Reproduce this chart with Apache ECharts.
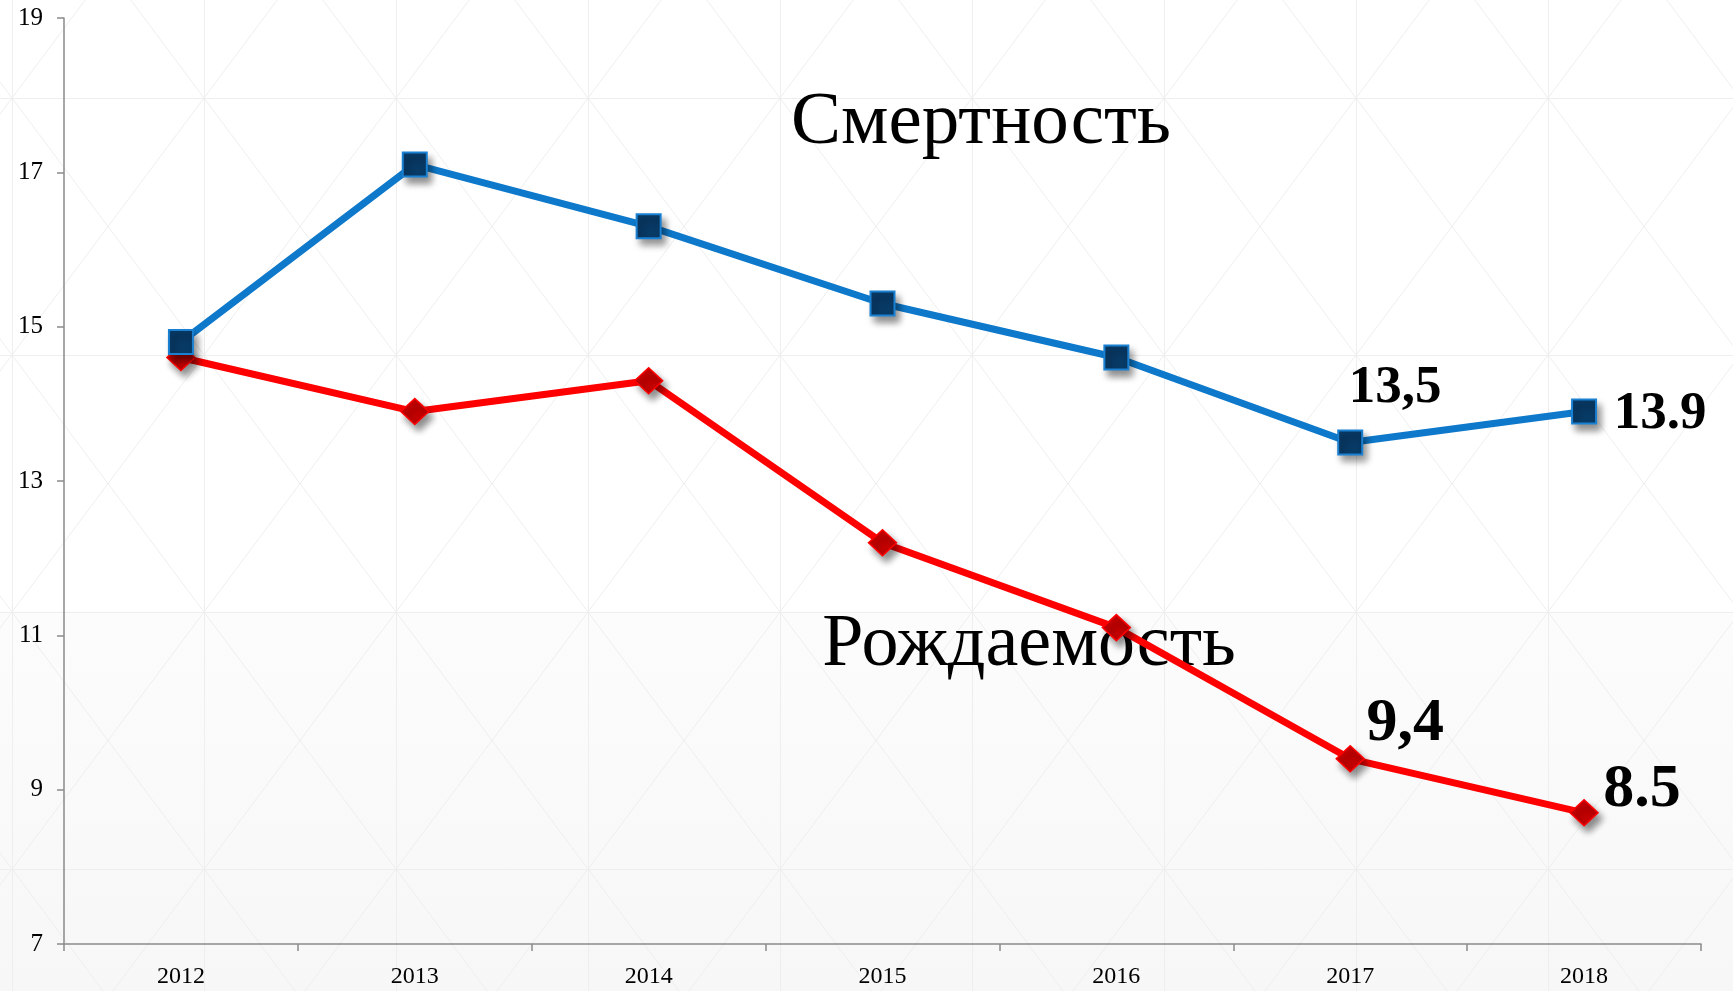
<!DOCTYPE html>
<html>
<head>
<meta charset="utf-8">
<title>Смертность и рождаемость</title>
<script src="https://cdn.jsdelivr.net/npm/echarts@6/dist/echarts.min.js"></script>
<style>
    html, body {
        margin: 0;
        padding: 0;
        width: 1733px;
        height: 991px;
        overflow: hidden;
    }
    body {
        background-color: #fff;
        background-image:
            url("data:image/svg+xml;utf8,<svg xmlns='http://www.w3.org/2000/svg' width='192' height='257'><g stroke='%23eeeeee' stroke-width='1' fill='none'><path d='M0.5 0V257M0 0.5H192M0 0L192 257M192 0L0 257'/></g></svg>"),
            linear-gradient(to bottom, #ffffff 0px, #ffffff 611px, #fcfcfc 612px, #f7f7f7 991px);
        background-position: 12px 98px, 0 0;
        background-repeat: repeat, no-repeat;
    }
    #main {
        width: 1733px;
        height: 991px;
    }
</style>
</head>
<body>
<div id="main"></div>
<script>
// years on the x axis
var years = ['2012', '2013', '2014', '2015', '2016', '2017', '2018'];

// Смертность (blue, squares)
var deathRate = [14.8, 17.1, 16.3, 15.3, 14.6, 13.5, 13.9];
// Рождаемость (red, diamonds)
var birthRate = [14.6, 13.9, 14.3, 12.2, 11.1, 9.4, 8.7];

// value labels as written on the slide ('' = no label)
var deathLabels = ['', '', '', '', '', '13,5', '13.9'];
var birthLabels = ['', '', '', '', '', '9,4', '8.5'];

var yTicks = {min: 7, max: 19, interval: 2};

var serif = '"Liberation Serif", "DejaVu Serif", serif';

var chart = echarts.init(document.getElementById('main'));

// label placement around the last two points
var deathLabelOffset = {5: [45, -54], 6: [76, 3]};
var birthLabelOffset = {5: [55, -35], 6: [58, -23]};

function buildData(values, labels, offsets, size) {
    var out = [];
    for (var i = 0; i < values.length; i++) {
        var item = {value: values[i]};
        if (labels[i]) {
            item.label = {
                show: true,
                position: 'inside',
                offset: offsets[i],
                formatter: labels[i],
                fontFamily: serif,
                fontWeight: 'bold',
                fontSize: size,
                color: '#000',
                align: 'center',
                verticalAlign: 'middle'
            };
        }
        out.push(item);
    }
    return out;
}

var markerShadow = {
    shadowBlur: 7,
    shadowColor: 'rgba(0,0,0,0.45)',
    shadowOffsetX: 4,
    shadowOffsetY: 6
};

var option = {
    backgroundColor: 'transparent',
    animation: false,
    grid: {
        left: 64,
        right: 32,
        top: 18,
        bottom: 47,
        containLabel: false
    },
    xAxis: {
        type: 'category',
        data: years,
        boundaryGap: true,
        axisLine: {lineStyle: {color: '#8a8a8a', width: 1.5}},
        axisTick: {show: true, length: 7, lineStyle: {color: '#8a8a8a', width: 1.5}},
        axisLabel: {
            color: '#000',
            fontFamily: serif,
            fontSize: 24,
            margin: 21
        },
        splitLine: {show: false}
    },
    yAxis: {
        type: 'value',
        min: yTicks.min,
        max: yTicks.max,
        interval: yTicks.interval,
        axisLine: {show: true, lineStyle: {color: '#8a8a8a', width: 1.5}},
        axisTick: {show: true, length: 7, lineStyle: {color: '#8a8a8a', width: 1.5}},
        axisLabel: {
            color: '#000',
            fontFamily: serif,
            fontSize: 25,
            margin: 21
        },
        splitLine: {show: false}
    },
    graphic: [
        {
            type: 'text',
            x: 981,
            y: 123,
            style: {
                text: 'Смертность',
                font: '75px ' + serif,
                fill: '#000',
                align: 'center',
                verticalAlign: 'middle'
            },
            z: 1
        },
        {
            type: 'text',
            x: 1029,
            y: 646,
            style: {
                text: 'Рождаемость',
                font: '74px ' + serif,
                fill: '#000',
                align: 'center',
                verticalAlign: 'middle'
            },
            z: 1
        }
    ],
    series: [
        {
            name: 'Рождаемость',
            type: 'line',
            data: buildData(birthRate, birthLabels, birthLabelOffset, 62),
            z: 3,
            symbol: 'diamond',
            symbolSize: [28, 26],
            lineStyle: {color: '#ff0000', width: 7},
            itemStyle: Object.assign({
                color: '#c40000',
                borderColor: '#ff0000',
                borderWidth: 1.5
            }, markerShadow)
        },
        {
            name: 'Смертность',
            type: 'line',
            data: buildData(deathRate, deathLabels, deathLabelOffset, 53),
            z: 4,
            symbol: 'rect',
            symbolSize: 24,
            lineStyle: {color: '#0e79cb', width: 7},
            itemStyle: Object.assign({
                color: '#083a66',
                borderColor: '#1a80d2',
                borderWidth: 2
            }, markerShadow)
        }
    ]
};

chart.setOption(option);
</script>
</body>
</html>
